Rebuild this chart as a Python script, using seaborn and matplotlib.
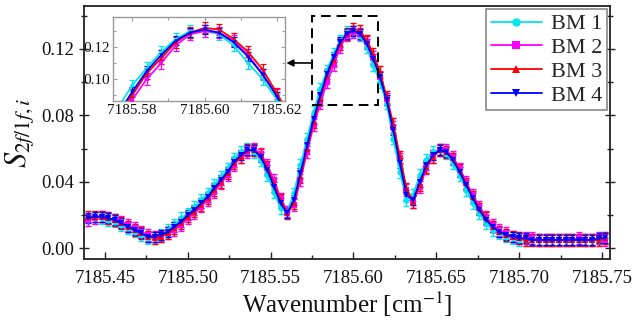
import numpy as np
import pandas as pd
import matplotlib
matplotlib.use("Agg")
import matplotlib.pyplot as plt
import seaborn as sns
from matplotlib.patches import Rectangle
from matplotlib.ticker import MultipleLocator

sns.set_theme(style="ticks")
plt.rcParams['font.family'] = ['Liberation Serif', 'DejaVu Serif']
plt.rcParams['mathtext.fontset'] = 'stix'

wavenumber = [7185.440, 7185.444, 7185.448, 7185.452, 7185.456, 7185.460, 7185.464, 7185.468,
              7185.472, 7185.476, 7185.480, 7185.484, 7185.488, 7185.492, 7185.496, 7185.500,
              7185.504, 7185.508, 7185.512, 7185.516, 7185.520, 7185.524, 7185.528, 7185.532,
              7185.536, 7185.540, 7185.544, 7185.548, 7185.552, 7185.556, 7185.560, 7185.564,
              7185.568, 7185.572, 7185.576, 7185.580, 7185.584, 7185.588, 7185.592, 7185.596,
              7185.600, 7185.604, 7185.608, 7185.612, 7185.616, 7185.620, 7185.624, 7185.628,
              7185.632, 7185.636, 7185.640, 7185.644, 7185.648, 7185.652, 7185.656, 7185.660,
              7185.664, 7185.668, 7185.672, 7185.676, 7185.680, 7185.684, 7185.688, 7185.692,
              7185.696, 7185.700, 7185.704, 7185.708, 7185.712, 7185.716, 7185.720, 7185.724,
              7185.728, 7185.732, 7185.736, 7185.740, 7185.744, 7185.748, 7185.752]

bm1 = [0.017, 0.018, 0.018, 0.017, 0.016, 0.014, 0.012, 0.010, 0.008, 0.006,
       0.006, 0.008, 0.011, 0.014, 0.018, 0.021, 0.025, 0.029, 0.033, 0.038,
       0.043, 0.048, 0.054, 0.058, 0.060, 0.058, 0.053, 0.044, 0.034, 0.024,
       0.022, 0.033, 0.050, 0.066, 0.082, 0.096, 0.107, 0.117, 0.125, 0.130,
       0.130, 0.128, 0.121, 0.110, 0.100, 0.087, 0.066, 0.046, 0.029, 0.032,
       0.044, 0.053, 0.058, 0.059, 0.057, 0.051, 0.044, 0.035, 0.027, 0.021,
       0.015, 0.011, 0.009, 0.007, 0.006, 0.005, 0.005, 0.005, 0.005, 0.005,
       0.005, 0.005, 0.005, 0.005, 0.005, 0.005, 0.005, 0.005, 0.006]

bm2 = [0.017, 0.018, 0.019, 0.018, 0.017, 0.016, 0.014, 0.012, 0.010, 0.008,
       0.007, 0.007, 0.009, 0.011, 0.014, 0.018, 0.021, 0.025, 0.029, 0.034,
       0.039, 0.044, 0.050, 0.055, 0.058, 0.060, 0.057, 0.050, 0.041, 0.030,
       0.022, 0.026, 0.041, 0.058, 0.074, 0.087, 0.100, 0.110, 0.121, 0.128,
       0.130, 0.129, 0.124, 0.115, 0.103, 0.090, 0.073, 0.054, 0.035, 0.028,
       0.037, 0.048, 0.055, 0.059, 0.059, 0.055, 0.048, 0.040, 0.032, 0.025,
       0.019, 0.014, 0.011, 0.009, 0.007, 0.006, 0.006, 0.006, 0.005, 0.005,
       0.005, 0.005, 0.005, 0.005, 0.006, 0.005, 0.005, 0.006, 0.005]

bm3 = [0.019, 0.019, 0.019, 0.018, 0.017, 0.015, 0.013, 0.011, 0.009, 0.007,
       0.006, 0.007, 0.009, 0.012, 0.015, 0.019, 0.022, 0.026, 0.030, 0.035,
       0.040, 0.045, 0.051, 0.055, 0.059, 0.059, 0.056, 0.049, 0.039, 0.029,
       0.021, 0.027, 0.043, 0.060, 0.076, 0.090, 0.1035, 0.113, 0.123, 0.129,
       0.132, 0.131, 0.125, 0.117, 0.106, 0.091, 0.075, 0.055, 0.036, 0.028,
       0.038, 0.049, 0.055, 0.059, 0.058, 0.054, 0.047, 0.039, 0.031, 0.024,
       0.018, 0.013, 0.010, 0.008, 0.007, 0.006, 0.005, 0.005, 0.005, 0.005,
       0.005, 0.005, 0.005, 0.005, 0.005, 0.005, 0.005, 0.005, 0.006]

bm4 = [0.018, 0.019, 0.019, 0.018, 0.017, 0.015, 0.013, 0.011, 0.009, 0.007,
       0.007, 0.008, 0.010, 0.013, 0.016, 0.020, 0.023, 0.027, 0.031, 0.036,
       0.041, 0.046, 0.052, 0.056, 0.059, 0.059, 0.055, 0.047, 0.037, 0.027,
       0.021, 0.029, 0.045, 0.062, 0.078, 0.092, 0.105, 0.115, 0.124, 0.129,
       0.131, 0.129, 0.123, 0.114, 0.103, 0.089, 0.071, 0.051, 0.032, 0.029,
       0.040, 0.050, 0.056, 0.059, 0.058, 0.053, 0.046, 0.038, 0.030, 0.023,
       0.017, 0.013, 0.010, 0.008, 0.007, 0.006, 0.006, 0.005, 0.005, 0.005,
       0.005, 0.005, 0.005, 0.005, 0.005, 0.005, 0.005, 0.006, 0.006]

series_names = ["BM 1", "BM 2", "BM 3", "BM 4"]
series_values = [bm1, bm2, bm3, bm4]
series_err = [0.0035, 0.0035, 0.0035, 0.003]
colors = ["#00e5ee", "#ff00ff", "#ff0000", "#0000ff"]
markers = ["o", "s", "^", "v"]

frames = []
for name, vals in zip(series_names, series_values):
    frames.append(pd.DataFrame({"wavenumber": wavenumber, "S": vals, "series": name}))
df = pd.concat(frames, ignore_index=True)

fig = plt.figure(figsize=(6.37, 3.24), dpi=100)
ax = fig.add_axes([0.1319, 0.2006, 0.8257, 0.7809])


def draw(axis, ms, lw, capsize, elw, legend):
    for name, vals, err, c in zip(series_names, series_values, series_err, colors):
        axis.errorbar(wavenumber, vals, yerr=err, fmt="none", ecolor=c,
                      elinewidth=elw, capsize=capsize, capthick=elw, zorder=2)
    sns.lineplot(data=df, x="wavenumber", y="S", hue="series", style="series",
                 palette=colors, markers=markers, dashes=False, markersize=ms,
                 linewidth=lw, markeredgewidth=0, ax=axis, legend=legend,
                 zorder=3, sort=False)


draw(ax, 4.5, 1.3, 2.5, 1.0, True)

ax.set_xlim(7185.4374, 7185.7548)
ax.set_ylim(-0.0065, 0.1458)
ax.xaxis.set_major_locator(MultipleLocator(0.05))
ax.xaxis.set_minor_locator(MultipleLocator(0.025))
ax.yaxis.set_major_locator(MultipleLocator(0.04))
ax.yaxis.set_minor_locator(MultipleLocator(0.02))
ax.xaxis.set_major_formatter(matplotlib.ticker.FormatStrFormatter("%.2f"))
ax.yaxis.set_major_formatter(matplotlib.ticker.FormatStrFormatter("%.2f"))
ax.tick_params(axis="x", which="both", direction="in", bottom=True, top=False,
               length=5, width=1, labelsize=13.5, pad=8, colors="#222222", labelcolor="#111111")
ax.tick_params(axis="x", which="minor", length=3)
ax.tick_params(axis="y", which="both", direction="inout", left=True, right=True,
               length=7, width=1, labelsize=13.5, colors="#222222", labelcolor="#111111")
ax.tick_params(axis="y", which="minor", length=5)
for sp in ax.spines.values():
    sp.set_linewidth(1.3)
    sp.set_color("#222222")
ax.set_xlabel("Wavenumber [cm$^{-1}$]", fontsize=18, color="#111111", labelpad=2)
ax.set_ylabel("$S_{2f/1f,i}$", fontsize=22, color="#111111", labelpad=4)

leg = ax.legend(loc="upper right", fontsize=16, frameon=True, fancybox=False,
                edgecolor="#888888", framealpha=1, handlelength=2.3,
                borderpad=0.2, labelspacing=0.15, handletextpad=0.4,
                borderaxespad=0.15)
leg.get_frame().set_linewidth(1.2)
for h in leg.legend_handles:
    h.set_markersize(6)

# dashed zoom region and arrow
ax.add_patch(Rectangle((7185.575, 0.086), 0.040, 0.054, fill=False,
                       edgecolor="black", linestyle=(0, (5, 3)), linewidth=1.4, zorder=5))
ax.annotate("", xy=(7185.5595, 0.1115), xytext=(7185.575, 0.1115),
            arrowprops=dict(arrowstyle="-|>", color="black", lw=1.2,
                            mutation_scale=10, shrinkA=0, shrinkB=0), zorder=6)

# inset
ins = fig.add_axes([113 / 637, 1 - 101 / 324, 172 / 637, 84 / 324])
draw(ins, 3, 1.3, 2, 0.9, False)
ins.set_xlim(7185.5747, 7185.6222)
ins.set_ylim(0.0863, 0.1388)
ins.xaxis.set_major_locator(MultipleLocator(0.02))
ins.xaxis.set_minor_locator(MultipleLocator(0.01))
ins.yaxis.set_major_locator(MultipleLocator(0.02))
ins.yaxis.set_minor_locator(MultipleLocator(0.01))
ins.xaxis.set_major_formatter(matplotlib.ticker.FormatStrFormatter("%.2f"))
ins.yaxis.set_major_formatter(matplotlib.ticker.FormatStrFormatter("%.2f"))
ins.tick_params(which="both", direction="in", length=3, width=0.8, colors="#999999",
                labelcolor="#111111", labelsize=11, pad=2, right=True, top=True)
ins.tick_params(which="minor", length=2)
ins.set_xlabel("")
ins.set_ylabel("")
for sp in ins.spines.values():
    sp.set_linewidth(1.0)
    sp.set_color("#999999")

fig.savefig("out.png", dpi=100)
